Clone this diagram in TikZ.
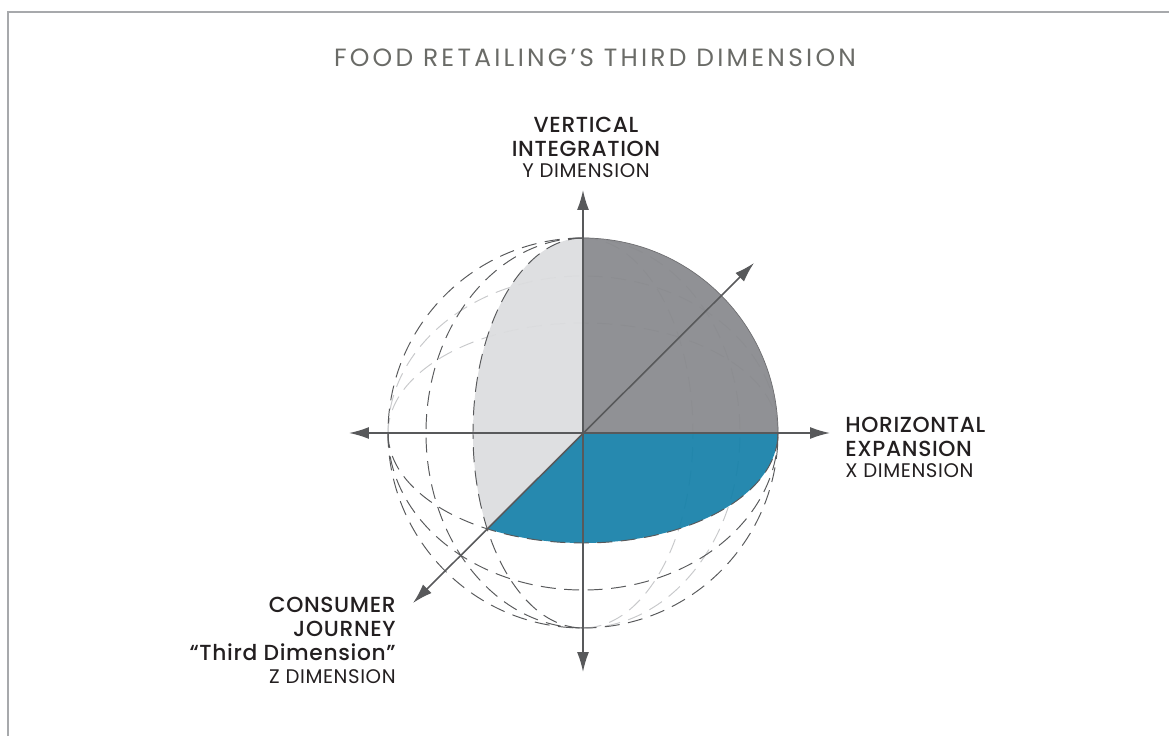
\documentclass[tikz,border=0pt]{standalone}
\usepackage{fontspec}
\setmainfont{Poppins}
\newfontfamily\medfont{Poppins Medium}[LetterSpace=3]
\usetikzlibrary{arrows.meta}

\definecolor{axisgray}{HTML}{58595B}
\definecolor{darkface}{HTML}{898A8E}
\definecolor{lightface}{HTML}{DCDDDF}
\definecolor{blueface}{HTML}{1882AA}
\definecolor{titlegray}{HTML}{6A6B67}
\definecolor{textdark}{HTML}{231F20}
\definecolor{framegray}{HTML}{A7A9AC}
\definecolor{hiddengray}{HTML}{C8C9CB}

\tikzset{
    axis/.style={draw=axisgray, line width=0.9pt, >={Latex[length=0.4cm,width=0.24cm]}, <->},
    frontdash/.style={draw=axisgray, line width=0.55pt, dash pattern=on 0.3cm off 0.17cm},
    backdash/.style={draw=hiddengray, line width=0.55pt, dash pattern=on 0.3cm off 0.17cm},
    face/.style={fill opacity=0.94},
    bigtext/.style={font=\medfont\fontsize{12.4}{13.6}\selectfont, text=textdark, inner sep=0pt},
    smalltext/.style={font=\addfontfeatures{LetterSpace=3}\fontsize{11.2}{13}\selectfont, text=textdark, inner sep=0pt}
}

\begin{document}
\begin{tikzpicture}
    \useasboundingbox (-11.66,-6.06) rectangle (11.72,8.66);

    % frame
    \draw[framegray, line width=0.85pt] (-11.5,-6.06) -- (-11.5,8.42) -- (11.72,8.42);

    % hidden halves of the great circles
    \draw[backdash] (-3.9,0) arc[start angle=180, end angle=0, x radius=3.9, y radius=2.2];
    \draw[backdash] (-3.9,0) arc[start angle=180, end angle=0, x radius=3.9, y radius=3.14];
    \draw[backdash] (0,3.9) arc[start angle=90, end angle=-90, x radius=2.2, y radius=3.9];
    \draw[backdash] (0,3.9) arc[start angle=90, end angle=-90, x radius=3.14, y radius=3.9];

    % the three faces of the octant
    \fill[darkface, face] (0,0) -- (0,3.9) arc[start angle=90, end angle=0, radius=3.9] -- cycle;
    \fill[lightface, face] (0,0) -- (0,3.9) arc[start angle=90, end angle=209.4, x radius=2.2, y radius=3.9] -- cycle;
    \fill[blueface, face] (0,0) -- (3.9,0) arc[start angle=360, end angle=240.6, x radius=3.9, y radius=2.2] -- cycle;
    \draw[darkface!80!black, line width=0.4pt] (0,3.9) arc[start angle=90, end angle=0, radius=3.9];

    % visible halves of the great circles
    \draw[frontdash] (0,3.9) arc[start angle=90, end angle=360, radius=3.9];
    \draw[frontdash] (0,3.9) arc[start angle=90, end angle=270, x radius=3.14, y radius=3.9];
    \draw[frontdash] (0,3.9) arc[start angle=90, end angle=270, x radius=2.2, y radius=3.9];
    \draw[frontdash] (-3.9,0) arc[start angle=180, end angle=360, x radius=3.9, y radius=2.2];
    \draw[frontdash] (-3.9,0) arc[start angle=180, end angle=360, x radius=3.9, y radius=3.14];

    % axes
    \coordinate (ytop) at (0,4.86);
    \coordinate (ybot) at (0,-4.78);
    \coordinate (xleft) at (-4.68,0);
    \coordinate (xright) at (4.94,0);
    \coordinate (zback) at (3.42,3.40);
    \coordinate (zfront) at (-3.40,-3.40);
    \draw[axis] (ybot) -- (ytop);
    \draw[axis] (xleft) -- (xright);
    \draw[axis] (zfront) -- (zback);

    % labels
    \node[anchor=base, text=titlegray, font=\addfontfeatures{LetterSpace=13}\fontsize{14.2}{16}\selectfont] (title) at (0.24,7.32) {FOOD RETAILING’S THIRD DIMENSION};

    \node[bigtext, anchor=north, align=center] (ylabel) at (0.06,6.32) {VERTICAL\\INTEGRATION};
    \node[smalltext, anchor=base] (ydim) at (0.06,5.10) {Y DIMENSION};

    \node[bigtext, anchor=north west, align=left] (xlabel) at (5.24,0.32) {HORIZONTAL\\EXPANSION};
    \node[smalltext, anchor=base west] (xdim) at (5.24,-0.90) {X DIMENSION};

    \node[bigtext, anchor=north east, align=right] (zlabel) at (-3.74,-3.28) {CONSUMER\\JOURNEY\\“Third Dimension”};
    \node[smalltext, anchor=base east] (zdim) at (-3.74,-5.0) {Z DIMENSION};
\end{tikzpicture}
\end{document}
